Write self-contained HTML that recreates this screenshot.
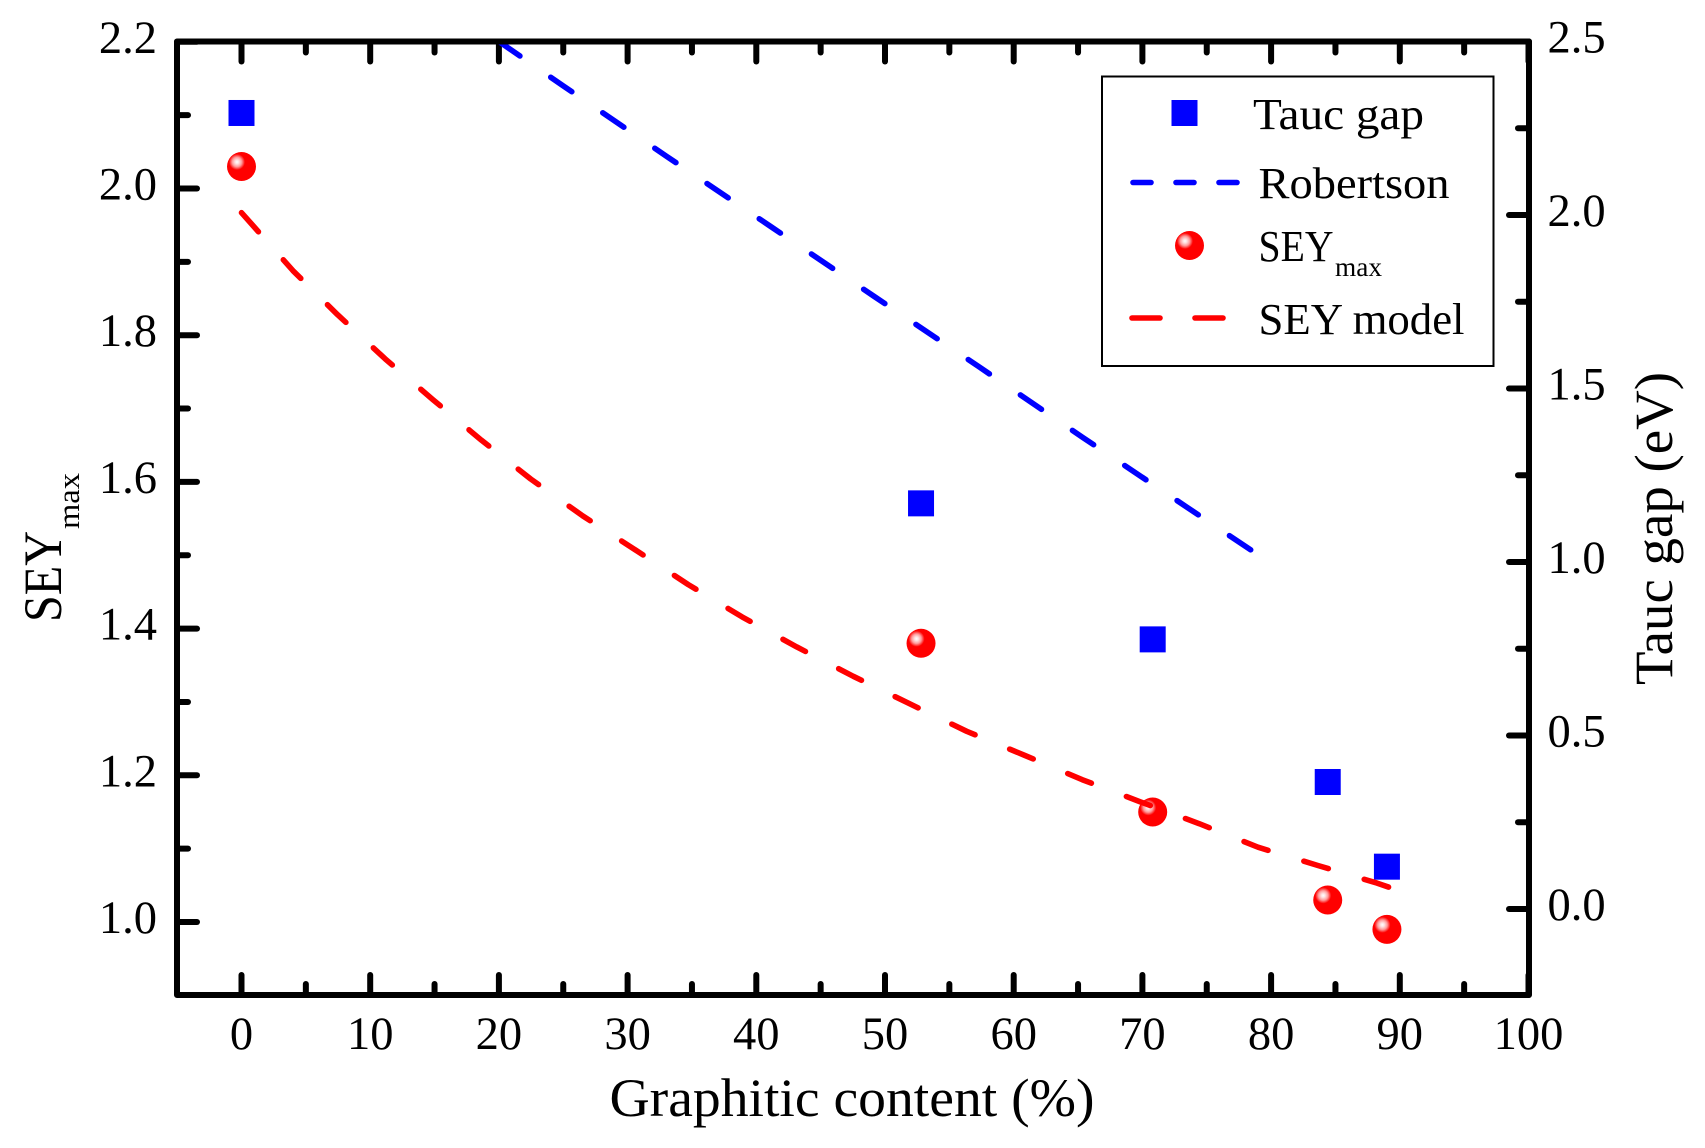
<!DOCTYPE html>
<html lang="en">
<head>
<meta charset="utf-8">
<title>SEY max and Tauc gap versus graphitic content</title>
<style>
html,body{margin:0;padding:0;background:#fff;}
svg{display:block;}
text{font-family:"Liberation Serif",serif;fill:#000;}
.tick{font-size:46.5px;}
.title{font-size:54px;}
.leg{font-size:44px;}
</style>
</head>
<body>
<svg id="chart" xmlns="http://www.w3.org/2000/svg" width="1705" height="1148" viewBox="0 0 1705 1148">
  <defs>
    <radialGradient id="shine">
      <stop offset="0" stop-color="#fff"/>
      <stop offset="0.25" stop-color="#ffe0e0"/>
      <stop offset="0.6" stop-color="#ff9a9a"/>
      <stop offset="1" stop-color="#ff0000"/>
    </radialGradient>
  </defs>
  <rect width="1705" height="1148" fill="#fff"/>
  <g id="ticks"></g>
  <g id="series"></g>
  <rect x="177" y="41.5" width="1352" height="953.5" fill="none" stroke="#000" stroke-width="6" stroke-linejoin="round"/>
  <g id="labels"></g>

  <text class="title" x="609.5" y="1116" textLength="485" lengthAdjust="spacingAndGlyphs">Graphitic content (%)</text>
  <text class="title" transform="translate(61 622) rotate(-90)" textLength="91" lengthAdjust="spacingAndGlyphs">SEY</text>
  <text font-size="31" transform="translate(79 529) rotate(-90)" textLength="56" lengthAdjust="spacingAndGlyphs">max</text>
  <text class="title" transform="translate(1672 685) rotate(-90)" textLength="313" lengthAdjust="spacingAndGlyphs">Tauc gap (eV)</text>

  <g>
    <rect x="1102" y="76.5" width="391.5" height="289.5" fill="#fff" stroke="#000" stroke-width="2"/>
    <rect x="1171.5" y="100" width="26" height="26" fill="#0000ff"/>
    <text class="leg" x="1253" y="129" textLength="171" lengthAdjust="spacingAndGlyphs">Tauc gap</text>
    <line x1="1133" y1="182.5" x2="1238" y2="182.5" stroke="#0000ff" stroke-width="5.6" stroke-linecap="round" stroke-dasharray="18 25"/>
    <text class="leg" x="1258.5" y="198" textLength="191" lengthAdjust="spacingAndGlyphs">Robertson</text>
    <g>
      <circle cx="1189.5" cy="245.5" r="14.5" fill="#ff0000"/>
      <circle cx="1185" cy="241" r="8" fill="url(#shine)"/>
    </g>
    <text class="leg" x="1258.5" y="261" textLength="75" lengthAdjust="spacingAndGlyphs">SEY</text>
    <text font-size="27.5" x="1335" y="276" textLength="47" lengthAdjust="spacingAndGlyphs">max</text>
    <line x1="1132" y1="318" x2="1223" y2="318" stroke="#ff0000" stroke-width="5.6" stroke-linecap="round" stroke-dasharray="28 35"/>
    <text class="leg" x="1258.5" y="334" textLength="206" lengthAdjust="spacingAndGlyphs">SEY model</text>
  </g>
</svg>
<script>
var xTickValues = [0, 10, 20, 30, 40, 50, 60, 70, 80, 90, 100];
var xMinorValues = [5, 15, 25, 35, 45, 55, 65, 75, 85, 95];
var leftTickLabels = ["1.0", "1.2", "1.4", "1.6", "1.8", "2.0", "2.2"];
var leftMinorValues = [1.1, 1.3, 1.5, 1.7, 1.9, 2.1];
var rightTickLabels = ["0.0", "0.5", "1.0", "1.5", "2.0", "2.5"];
var rightMinorValues = [0.25, 0.75, 1.25, 1.75, 2.25];

var markerX = [0, 52.8, 70.8, 84.4, 89.0];
var taucGap = [2.294, 1.169, 0.777, 0.366, 0.122];
var seyMax = [2.03, 1.38, 1.15, 1.03, 0.99];

var robertsonX = [20, 25, 33.04, 41.12, 49.17, 57.28, 65.36, 73.41, 78.42];
var robertsonY = [2.5, 2.372, 2.169, 1.967, 1.765, 1.563, 1.359, 1.159, 1.035];

var modelX = [0, 4.0, 7.47, 11.15, 14.88, 18.63, 22.47, 26.53, 30.63, 34.72, 38.9, 43.14, 47.54, 51.86, 56.35, 60.88, 65.33, 69.81, 74.42, 78.98, 83.64, 88.23, 89.4];
var modelY = [1.967, 1.888, 1.828, 1.768, 1.712, 1.657, 1.604, 1.5535, 1.507, 1.46, 1.416, 1.375, 1.335, 1.298, 1.26, 1.227, 1.194, 1.164, 1.134, 1.102, 1.077, 1.053, 1.046];

var NS = "http://www.w3.org/2000/svg";
function xPos(v) { return 241.5 + (v / 10) * 128.7; }
function yLeft(v) { return 922 - (v - 1) * 733.5; }
function yRight(v) { return 909 - v * 347; }

var ticksGroup = document.getElementById("ticks");
var seriesGroup = document.getElementById("series");
var labelsGroup = document.getElementById("labels");

function tickLine(x1, y1, x2, y2) {
  var l = document.createElementNS(NS, "line");
  l.setAttribute("x1", x1);
  l.setAttribute("y1", y1);
  l.setAttribute("x2", x2);
  l.setAttribute("y2", y2);
  l.setAttribute("stroke", "#000");
  l.setAttribute("stroke-width", "6");
  l.setAttribute("stroke-linecap", "round");
  
  
  ticksGroup.appendChild(l);
}
function label(str, x, y, anchor) {
  var t = document.createElementNS(NS, "text");
  t.setAttribute("class", "tick");
  t.setAttribute("x", x);
  t.setAttribute("y", y);
  t.setAttribute("text-anchor", anchor);
  
  
  t.textContent = str;
  labelsGroup.appendChild(t);
}

var TOP = 41.5, BOTTOM = 995, LEFT = 177, RIGHT = 1529;

xTickValues.forEach(function (v) {
  tickLine(xPos(v), BOTTOM, xPos(v), BOTTOM - 20);
  tickLine(xPos(v), TOP, xPos(v), TOP + 20);
  label(String(v), xPos(v), 1049, "middle");
});
xMinorValues.forEach(function (v) {
  tickLine(xPos(v), BOTTOM, xPos(v), BOTTOM - 11);
  tickLine(xPos(v), TOP, xPos(v), TOP + 11);
});
leftTickLabels.forEach(function (s) {
  var v = parseFloat(s);
  tickLine(LEFT, yLeft(v), LEFT + 20, yLeft(v));
  label(s, 157, yLeft(v) + 11, "end");
});
leftMinorValues.forEach(function (v) {
  tickLine(LEFT, yLeft(v), LEFT + 11, yLeft(v));
});
rightTickLabels.forEach(function (s) {
  var v = parseFloat(s);
  tickLine(RIGHT, yRight(v), RIGHT - 20, yRight(v));
  label(s, 1547.5, yRight(v) + 11, "start");
});
rightMinorValues.forEach(function (v) {
  tickLine(RIGHT, yRight(v), RIGHT - 11, yRight(v));
});

function dashedLine(xs, ys, yFn, color, name) {
  var p = document.createElementNS(NS, "polyline");
  var pts = xs.map(function (x, i) { return xPos(x).toFixed(1) + "," + yFn(ys[i]).toFixed(1); });
  p.setAttribute("points", pts.join(" "));
  p.setAttribute("fill", "none");
  p.setAttribute("stroke", color);
  p.setAttribute("stroke-width", "5.6");
  p.setAttribute("stroke-linecap", "round");
  p.setAttribute("stroke-linejoin", "round");
  p.setAttribute("stroke-dasharray", "25.5 37.5");
  
  
  seriesGroup.appendChild(p);
}
dashedLine(robertsonX, robertsonY, yRight, "#0000ff", "robertson-line");

markerX.forEach(function (x, i) {
  var r = document.createElementNS(NS, "rect");
  r.setAttribute("x", xPos(x) - 13);
  r.setAttribute("y", yRight(taucGap[i]) - 13);
  r.setAttribute("width", 26);
  r.setAttribute("height", 26);
  r.setAttribute("fill", "#0000ff");
  
  
  seriesGroup.appendChild(r);
});
markerX.forEach(function (x, i) {
  var g = document.createElementNS(NS, "g");
  
  
  var c = document.createElementNS(NS, "circle");
  c.setAttribute("cx", xPos(x));
  c.setAttribute("cy", yLeft(seyMax[i]));
  c.setAttribute("r", 14.5);
  c.setAttribute("fill", "#ff0000");
  g.appendChild(c);
  var h = document.createElementNS(NS, "circle");
  h.setAttribute("cx", xPos(x) - 4.5);
  h.setAttribute("cy", yLeft(seyMax[i]) - 4.5);
  h.setAttribute("r", 8);
  h.setAttribute("fill", "url(#shine)");
  g.appendChild(h);
  seriesGroup.appendChild(g);
});
dashedLine(modelX, modelY, yLeft, "#ff0000", "sey-model-line");
</script>
</body>
</html>
